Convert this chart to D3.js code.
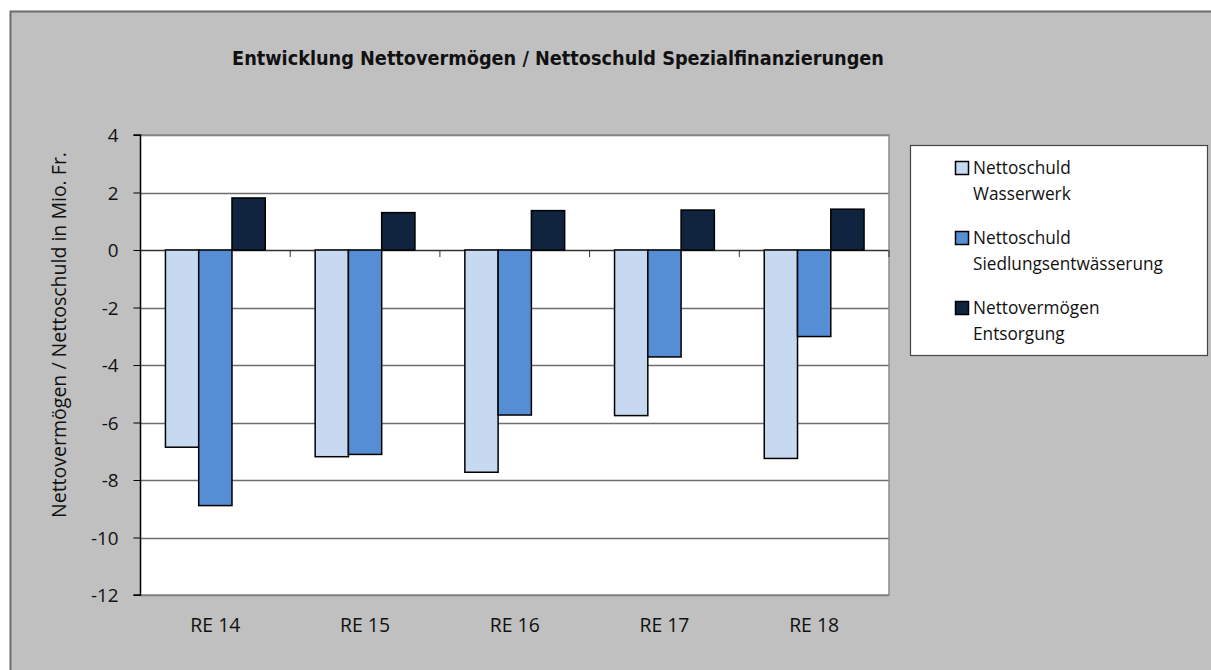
<!DOCTYPE html>
<html><head><meta charset="utf-8">
<script src="https://cdn.jsdelivr.net/npm/d3@7/dist/d3.min.js"></script>
<style>
html,body{margin:0;padding:0;background:#fff;}
svg{display:block;}
text{font-family:"Open Sans",sans-serif;fill:#111;}
.title{font-family:"DejaVu Sans Condensed","Liberation Sans Narrow","Open Sans",sans-serif;}
</style></head>
<body>
<svg id="chart" width="1211" height="670"></svg>
<script>
const categories = ["RE 14","RE 15","RE 16","RE 17","RE 18"];
const seriesNames = [["Nettoschuld","Wasserwerk"],["Nettoschuld","Siedlungsentwässerung"],["Nettovermögen","Entsorgung"]];
const wasserwerk = [-6.86,-7.19,-7.73,-5.76,-7.25];
const siedlung = [-8.89,-7.11,-5.74,-3.72,-3.01];
const entsorgung = [1.81,1.30,1.37,1.39,1.42];
const yTicks = [4,2,0,-2,-4,-6,-8,-10,-12];
const colors = ["#C6D9F1","#558ED5","#10243F"];
const series = [wasserwerk, siedlung, entsorgung];

const svg = d3.select("#chart");
function fit(sel, target){
  const base = 20;
  sel.attr("font-size", base);
  const w = sel.node().getComputedTextLength();
  const fs = base*target/w;
  sel.attr("font-size", fs.toFixed(2));
  return fs;
}

svg.append("rect").attr("x",10).attr("y",12).attr("width",1201).attr("height",658).attr("fill","#C0C0C0");
svg.append("path").attr("d","M10.5,670 V11.5 H1211").attr("fill","none").attr("stroke","#6b6b6b").attr("stroke-width",2);

const L=140.5, R=889, T=135, B=595;
const x = d3.scaleBand().domain(categories).range([L,R]).paddingInner(0).paddingOuter(0);
const y = d3.scaleLinear().domain([-12,4]).range([B,T]);

svg.append("rect").attr("x",L).attr("y",T).attr("width",R-L).attr("height",B-T).attr("fill","#fff");

svg.append("g").selectAll("line").data(yTicks).join("line")
  .attr("x1",L).attr("x2",R).attr("y1",d=>Math.round(y(d))+0.5).attr("y2",d=>Math.round(y(d))+0.5)
  .attr("stroke",d=>d===0?"#333":"#6e6e6e").attr("stroke-width",1.3);
svg.append("path").attr("d",`M${L},${T} H${R} V${B} H${L}`).attr("fill","none").attr("stroke","#8a8a8a").attr("stroke-width",1.5);

const bw = x.bandwidth()/4.5;
const g = svg.append("g");
series.forEach((vals,si)=>{
  g.selectAll(null).data(vals).join("rect")
    .attr("x",(d,i)=>x(categories[i])+0.75*bw+si*bw)
    .attr("y",d=>y(Math.max(0,d)))
    .attr("width",bw)
    .attr("height",d=>Math.abs(y(d)-y(0)))
    .attr("fill",colors[si]).attr("stroke","#000").attr("stroke-width",1.5);
});

// x labels (fit first, shared size)
const boundaries = d3.range(1,categories.length+1).map(i=>L+i*x.step());
svg.append("g").selectAll("line").data(boundaries).join("line")
  .attr("x1",d=>d).attr("x2",d=>d).attr("y1",y(0)).attr("y2",y(0)+7).attr("stroke","#333").attr("stroke-width",1);
const xl = svg.append("g").selectAll("text").data(categories).join("text")
  .attr("x",d=>x(d)+x.bandwidth()/2).attr("y",632).attr("text-anchor","middle").text(d=>d);
const xfs = fit(xl.filter((d,i)=>i===0), 50);
xl.attr("font-size",xfs.toFixed(2));

// y axis
const yAxis = d3.axisLeft(y).tickValues(yTicks).tickSize(7).tickPadding(15)
  .tickFormat(d=>d<0?"-"+Math.abs(d):d);
const ya = svg.append("g").attr("transform",`translate(${L},0)`).call(yAxis);
ya.select(".domain").attr("stroke","#000").attr("stroke-width",1.5).attr("d",`M-7,${T}H0V${B}H-7`);
ya.selectAll(".tick line").attr("stroke","#000");
ya.selectAll("text").attr("font-family",null).attr("fill","#111").attr("dy","0.36em").attr("font-size",(xfs*0.97).toFixed(2));

// y label
const yl = svg.append("text").attr("transform",`translate(66,335) rotate(-90)`)
  .attr("text-anchor","middle").text("Nettovermögen / Nettoschuld in Mio. Fr.");
fit(yl, 366);

// title
const tt = svg.append("text").attr("class","title").attr("x",558).attr("y",65).attr("text-anchor","middle")
  .attr("font-weight","bold").text("Entwicklung Nettovermögen / Nettoschuld Spezialfinanzierungen");
fit(tt, 652);

// legend
svg.append("rect").attr("x",910.5).attr("y",145.5).attr("width",297).attr("height",210)
  .attr("fill","#fff").attr("stroke","#444").attr("stroke-width",1.2);
const lg = svg.append("g").selectAll("g").data(seriesNames).join("g")
  .attr("transform",(d,i)=>`translate(955,${161+i*70})`);
lg.append("rect").attr("x",0.5).attr("y",0.5).attr("width",13).attr("height",13)
  .attr("fill",(d,i)=>colors[i]).attr("stroke","#000").attr("stroke-width",1.5);
const l1 = lg.append("text").attr("x",18).attr("y",12.5).text(d=>d[0]);
const l2 = lg.append("text").attr("x",18).attr("y",39).text(d=>d[1]);
const lfs = fit(l2.filter((d,i)=>i===1), 190);
l1.attr("font-size",lfs.toFixed(2)); l2.attr("font-size",lfs.toFixed(2));
</script>
</body></html>
